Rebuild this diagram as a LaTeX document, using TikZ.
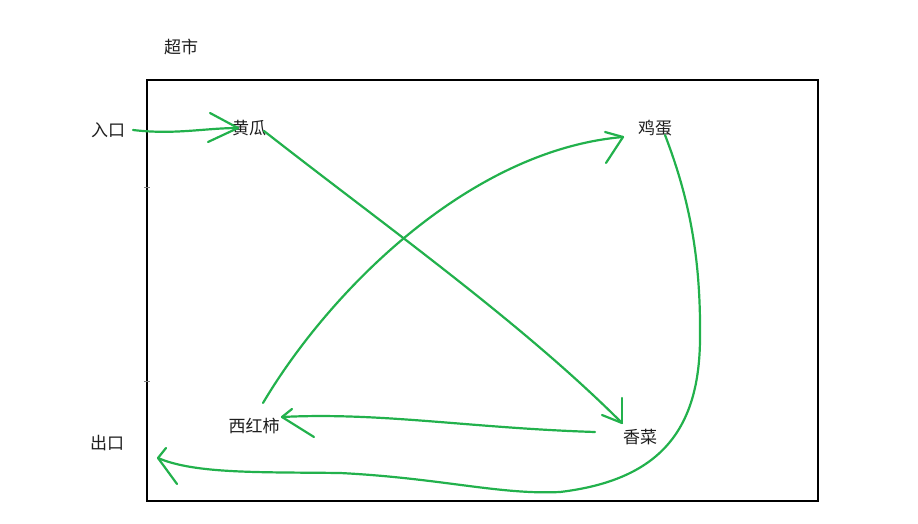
\documentclass[tikz,border=0pt]{standalone}
\usepackage{fontspec}
\usepackage{xcolor}
\usepackage{tikz}
\usetikzlibrary{calc}
\newfontfamily\cjk{Noto Sans CJK SC}
\definecolor{penGreen}{RGB}{34,177,76}
\definecolor{inkGray}{RGB}{30,30,30}
\tikzset{
    place/.style={
        font=\cjk\fontsize{17}{20}\selectfont,
        text=inkGray,
        inner sep=0pt
    },
    pen/.style={
        draw=penGreen,
        line width=2.2pt,
        line cap=round,
        line join=round
    },
    frame/.style={
        draw=black,
        line width=2.4pt
    }
}

\begin{document}
\begin{tikzpicture}[x=1pt, y=-1pt]
    \useasboundingbox (0,0) rectangle (918,524);
    \draw[frame] (147,80) rectangle (818,501);
    \foreach \y in {187, 381} {
        \draw[gray, line width=1pt] (144,\y) -- (150,\y);
    }

    \node[place] (market)    at (181,47)  {超市};
    \node[place] (entry)     at (108,130) {入口};
    \node[place] (cucumber)  at (249,128) {黄瓜};
    \node[place] (egg)       at (655,128) {鸡蛋};
    \node[place] (tomato)    at (254,426) {西红柿};
    \node[place] (coriander) at (640,437) {香菜};
    \node[place] (exit)      at (107,443) {出口};

    \coordinate (cucumberTip)  at ($(cucumber)+(-11,0)$);
    \coordinate (corianderTip) at ($(coriander)+(-18,-14)$);
    \coordinate (eggTip)       at ($(egg)+(-32,9)$);
    \coordinate (tomatoTip)    at ($(tomato)+(28,-9)$);
    \coordinate (exitTip)      at ($(exit)+(51,15)$);

    % entry -> cucumber
    \draw[pen] ($(entry)+(25,0)$) .. controls (175,135) and (205,128) .. (cucumberTip);
    \draw[pen] (cucumberTip) -- ++(-28,-15);
    \draw[pen] (cucumberTip) -- ++(-30,14);

    % cucumber -> coriander
    \draw[pen] ($(cucumber)+(15,3)$) .. controls (384,225) and (521,322) .. (corianderTip);
    \draw[pen] (corianderTip) -- ++(0,-25);
    \draw[pen] (corianderTip) -- ++(-20,-8);

    % coriander -> tomato
    \draw[pen] ($(coriander)+(-45,-5)$) .. controls (470,428) and (380,412) .. (tomatoTip);
    \draw[pen] (tomatoTip) -- ++(10,-8);
    \draw[pen] (tomatoTip) -- ++(32,20);

    % tomato -> egg
    \draw[pen] ($(tomato)+(9,-23)$) .. controls (330,290) and (470,150) .. (eggTip);
    \draw[pen] (eggTip) -- ++(-18,-5);
    \draw[pen] (eggTip) -- ++(-17,26);

    % egg -> exit
    \draw[pen] ($(egg)+(10,7)$) .. controls (690,200) and (701,260) .. (700,340)
        .. controls (699,430) and (660,480) .. (560,492)
        .. controls (500,495) and (440,478) .. (340,473)
        .. controls (260,472) and (195,474) .. (exitTip);
    \draw[pen] (exitTip) -- ++(8,-10);
    \draw[pen] (exitTip) -- ++(19,26);
\end{tikzpicture}
\end{document}
